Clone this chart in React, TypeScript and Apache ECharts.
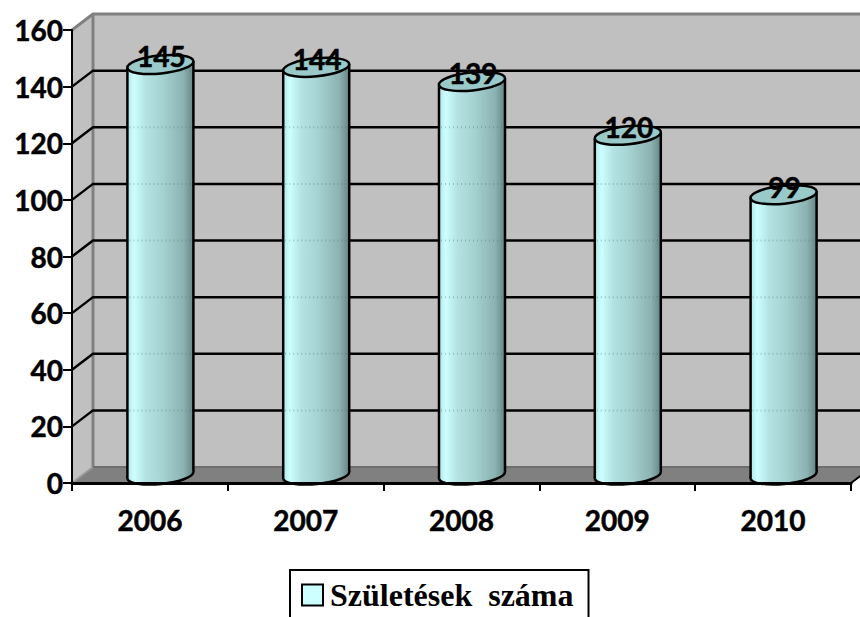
import React, { useEffect, useRef } from "react";
import * as echarts from "echarts";

const categories = ["2006", "2007", "2008", "2009", "2010"];
const births = [145, 144, 139, 120, 99];
const gridTicks = [20, 40, 60, 80, 100, 120, 140];
const seriesName = "Születések  száma";

const DX = 21;
const DY = 16;
const R = 33;
const TILT = 3.3;
const RY = 9;

const sideGradient = () =>
  new echarts.graphic.LinearGradient(0, 0, 1, 0, [
    { offset: 0, color: "#b2e6e6" },
    { offset: 0.1, color: "#ccffff" },
    { offset: 0.28, color: "#b4e2e2" },
    { offset: 0.55, color: "#a4d0d0" },
    { offset: 0.85, color: "#8cb2b2" },
    { offset: 1, color: "#678585" },
  ]);

export default function App() {
  const ref = useRef<HTMLDivElement>(null);
  useEffect(() => {
    document.body.style.margin = "0";
    const chart = echarts.init(ref.current!, null, { renderer: "svg" });
    chart.setOption({
      animation: false,
      backgroundColor: "#fff",
      grid: { left: 72, right: 9, top: 30, bottom: 134 },
      legend: {
        left: 290,
        top: 570,
        data: [
          {
            name: seriesName,
            icon: "rect",
            itemStyle: { color: "#ccffff", borderColor: "#000", borderWidth: 2 },
          },
        ],
        itemWidth: 21,
        itemHeight: 21,
        itemGap: 0,
        padding: [9, 15, 40, 11],
        borderColor: "#000",
        borderWidth: 2,
        selectedMode: false,
        textStyle: {
          fontFamily: "Liberation Serif",
          fontWeight: "bold",
          fontSize: 32,
          color: "#000",
          padding: [0, 0, 0, 2],
        },
      },
      xAxis: {
        type: "category",
        data: categories,
        z: 5,
        axisLine: { lineStyle: { color: "#000", width: 3 } },
        axisTick: { show: true, alignWithLabel: false, length: 8, lineStyle: { color: "#000", width: 2 } },
        axisLabel: {
          color: "#000",
          fontFamily: "Lato",
          fontWeight: "bold",
          fontSize: 28,
          margin: 23,
          textBorderColor: "#000",
          textBorderWidth: 0.5,
        },
      },
      yAxis: {
        type: "value",
        min: 0,
        max: 160,
        interval: 20,
        z: 5,
        axisLine: { show: true, lineStyle: { color: "#000", width: 2 } },
        axisTick: { show: true, length: 9, lineStyle: { color: "#000", width: 2 } },
        splitLine: { show: false },
        axisLabel: {
          color: "#000",
          fontFamily: "Lato",
          fontWeight: "bold",
          fontSize: 28,
          margin: 9,
          textBorderColor: "#000",
          textBorderWidth: 0.5,
        },
      },
      series: [
        {
          type: "custom",
          name: "room",
          z: 1,
          silent: true,
          data: [[0, 0]],
          renderItem: (params: any, api: any) => {
            const c = params.coordSys;
            const l = c.x, r = c.x + c.width, t = c.y, b = c.y + c.height;
            const grey = "#808080";
            const wall = "#c0c0c0";
            return {
              type: "group",
              children: [
                { type: "polygon", shape: { points: [[l + DX, t - DY], [r + DX, t - DY], [r + DX, b - DY], [l + DX, b - DY]] }, style: { fill: wall } },
                { type: "polygon", shape: { points: [[l, t], [l + DX, t - DY], [l + DX, b - DY], [l, b]] }, style: { fill: wall } },
                { type: "polygon", shape: { points: [[l, b], [l + DX, b - DY], [r + DX, b - DY], [r, b]] }, style: { fill: grey } },
                { type: "polyline", shape: { points: [[l, t], [l + DX, t - DY], [r + DX, t - DY]] }, style: { fill: "none", stroke: grey, lineWidth: 3 } },
                { type: "line", shape: { x1: l + DX, y1: t - DY, x2: l + DX, y2: b - DY }, style: { stroke: grey, lineWidth: 3 } },
                { type: "line", shape: { x1: l, y1: b, x2: l + DX, y2: b - DY }, style: { stroke: "#999", lineWidth: 2 } },
                { type: "line", shape: { x1: l + DX, y1: b - DY, x2: r + DX, y2: b - DY }, style: { stroke: "#6e6e6e", lineWidth: 2 } },
                { type: "line", shape: { x1: r, y1: b, x2: r + DX, y2: b - DY }, style: { stroke: "#000", lineWidth: 2 } },
              ],
            };
          },
        },
        {
          type: "custom",
          name: "grid",
          z: 2,
          silent: true,
          data: gridTicks.map((v) => [0, v]),
          renderItem: (params: any, api: any) => {
            const c = params.coordSys;
            const y = api.coord([0, api.value(1)])[1];
            const l = c.x, r = c.x + c.width;
            return {
              type: "polyline",
              shape: { points: [[l, y], [l + DX, y - DY], [r + DX, y - DY]] },
              style: { fill: "none", stroke: "#000", lineWidth: 2.5 },
            };
          },
        },
        {
          type: "custom",
          name: seriesName,
          z: 3,
          silent: true,
          itemStyle: { color: "#ccffff" },
          data: births.map((v, i) => [i, v]),
          renderItem: (params: any, api: any) => {
            const [px, py] = api.coord([api.value(0), api.value(1)]);
            const base = api.coord([api.value(0), 0])[1];
            const cx = px + DX / 2;
            const top = py - DY / 2;
            const bot = base - DY / 2;
            const rot = Math.atan2(TILT, R);
            const stroke = "#000";
            const lw = 2.5;
            const ell = (cy: number, style: any) => ({
              type: "ellipse",
              x: cx,
              y: cy,
              rotation: rot,
              shape: { cx: 0, cy: 0, rx: R + 0.2, ry: RY },
              style,
            });
            const ghosts = gridTicks
              .filter((t) => t < api.value(1))
              .map((t) => {
                const y = api.coord([0, t])[1] - DY;
                return {
                  type: "line",
                  shape: { x1: cx - R + 2, y1: y, x2: cx + R - 2, y2: y },
                  style: { stroke: "rgba(70,110,110,0.35)", lineWidth: 2, lineDash: [1, 3] },
                };
              });
            return {
              type: "group",
              children: [
                ell(bot, { fill: sideGradient(), stroke, lineWidth: lw }),
                {
                  type: "polygon",
                  shape: {
                    points: [
                      [cx - R, top + TILT],
                      [cx + R, top - TILT],
                      [cx + R, bot - TILT],
                      [cx - R, bot + TILT],
                    ],
                  },
                  style: { fill: sideGradient() },
                },
                ...ghosts,
                { type: "line", shape: { x1: cx - R, y1: top + TILT, x2: cx - R, y2: bot + TILT }, style: { stroke, lineWidth: lw } },
                { type: "line", shape: { x1: cx + R, y1: top - TILT, x2: cx + R, y2: bot - TILT }, style: { stroke, lineWidth: lw } },
                ell(top, { fill: "#99c9c9", stroke, lineWidth: lw }),
                {
                  type: "text",
                  x: cx + 1,
                  y: top - 8,
                  style: {
                    text: String(api.value(1)),
                    fill: "#000",
                    stroke: "#000",
                    lineWidth: 0.5,
                    fontFamily: "Lato",
                    fontWeight: "bold",
                    fontSize: 28,
                    align: "center",
                    verticalAlign: "middle",
                  },
                },
              ],
            };
          },
        },
      ],
    });
    return () => chart.dispose();
  }, []);
  return <div ref={ref} style={{ width: 860, height: 617, position: "absolute", left: 0, top: 0, overflow: "hidden" }} />;
}
